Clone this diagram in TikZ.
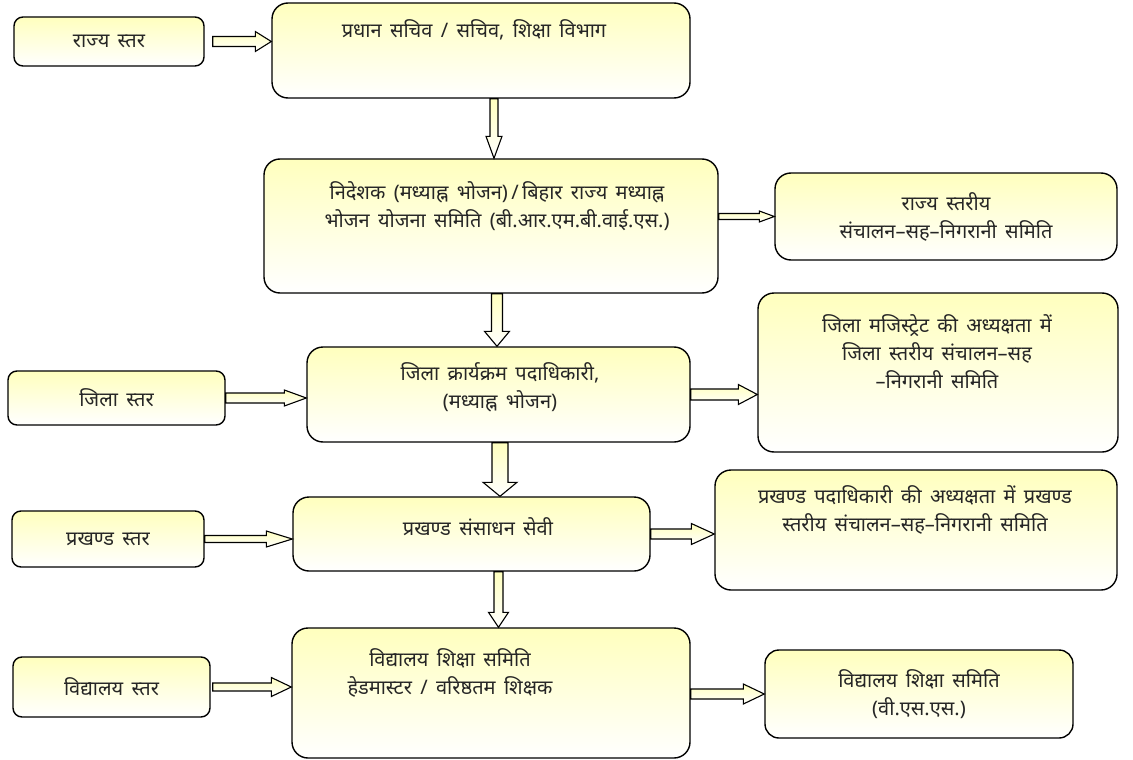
\documentclass[tikz,border=0pt]{standalone}
\usepackage{fontspec}
\newfontfamily\hindi[Script=Devanagari, WordSpace=1.6]{Noto Sans}
\usetikzlibrary{calc,positioning}
\definecolor{boxtop}{RGB}{255,255,190}
\tikzset{
    lvlbox/.style={draw, line width=1.4pt, rounded corners=9pt,
        top color=boxtop, bottom color=white, inner sep=0pt,
        font=\hindi\fontsize{20}{28}\selectfont, align=center, text=black!85},
    bigbox/.style={lvlbox, rounded corners=16pt},
    boxtext/.style={font=\hindi\fontsize{20}{28}\selectfont, align=center, text=black!85, inner sep=0pt},
    blkarrow/.style={draw, line width=1.1pt, line join=miter, top color=boxtop, bottom color=white}
}
% block arrow: from, to, shaft half width, head half width, head length
\newcommand{\blockarrow}[5]{%
    \coordinate (ba-a) at #1;
    \coordinate (ba-b) at #2;
    \coordinate (ba-h) at ($(ba-b)!#5!(ba-a)$);
    \draw[blkarrow] ($(ba-a)!#3!90:(ba-b)$) -- ($(ba-h)!#3!90:(ba-b)$)
        -- ($(ba-h)!#4!90:(ba-b)$) -- (ba-b) -- ($(ba-h)!#4!-90:(ba-b)$)
        -- ($(ba-h)!#3!-90:(ba-b)$) -- ($(ba-a)!#3!-90:(ba-b)$) -- cycle;
}

\begin{document}
\begin{tikzpicture}[x=1pt, y=-1pt]
\useasboundingbox (0,0) rectangle (1133,760);
% levels
\node[lvlbox, minimum width=190pt, minimum height=49pt] (rajya) at (109,41.5) {राज्य स्तर};
\node[lvlbox, minimum width=217pt, minimum height=54pt] (jila) at (116.5,398) {जिला स्तर};
\node[lvlbox, minimum width=192pt, minimum height=56pt] (prakhand) at (108,539) {प्रखण्ड स्तर};
\node[lvlbox, minimum width=197pt, minimum height=60pt] (vidyalay) at (111.5,687) {विद्यालय स्तर};
% main chain
\node[bigbox, minimum width=418pt, minimum height=95pt] (pradhan) at (481,50.5) {};
\node[boxtext] (pradhan-t) at (474,30) {प्रधान सचिव / सचिव, शिक्षा विभाग};
\node[bigbox, minimum width=454pt, minimum height=134pt] (nidesh) at (491,226) {};
\node[boxtext] (nidesh-t) at (497,206) {निदेशक (मध्याह्न भोजन)\,/\,बिहार राज्य मध्याह्न\\भोजन योजना समिति (बी.आर.एम.बी.वाई.एस.)};
\node[bigbox, minimum width=383pt, minimum height=95pt] (jilaprog) at (498.5,394.5) {};
\node[boxtext] (jilaprog-t) at (500,387) {जिला क्रार्यक्रम पदाधिकारी,\\(मध्याह्न भोजन)};
\node[bigbox, minimum width=357pt, minimum height=74pt] (prakhandres) at (471.5,534) {};
\node[boxtext] (prakhandres-t) at (478,527) {प्रखण्ड संसाधन सेवी};
\node[bigbox, minimum width=398pt, minimum height=130pt] (vidyamid) at (491,693) {};
\node[boxtext] (vidyamid-t) at (450,673) {विद्यालय शिक्षा समिति\\हेडमास्टर / वरिष्ठतम शिक्षक};
% committees
\node[bigbox, minimum width=342pt, minimum height=87pt] (rajyastar) at (946,216.5) {राज्य स्तरीय\\संचालन–सह–निगरानी समिति};
\node[bigbox, minimum width=360pt, minimum height=159pt] (jilamag) at (938,372.5) {};
\node[boxtext] (jilamag-t) at (937,352) {जिला मजिस्ट्रेट की अध्यक्षता में\\जिला स्तरीय संचालन–सह\\–निगरानी समिति};
\node[bigbox, minimum width=402pt, minimum height=120pt] (prakhandpad) at (916,530) {};
\node[boxtext] (prakhandpad-t) at (915,510) {प्रखण्ड पदाधिकारी की अध्यक्षता में प्रखण्ड\\स्तरीय संचालन–सह–निगरानी समिति};
\node[lvlbox, rounded corners=14pt, minimum width=308pt, minimum height=88pt] (vss) at (919,694) {विद्यालय शिक्षा समिति\\(वी.एस.एस.)};
% arrows
\blockarrow{([xshift=8pt]rajya.east)}{(pradhan.west |- rajya.east)}{5pt}{10pt}{16pt}
\blockarrow{([xshift=13pt]pradhan.south)}{([xshift=3pt]nidesh.north)}{4pt}{8pt}{22pt}
\blockarrow{(nidesh.east |- rajyastar.west)}{(rajyastar.west)}{3pt}{5.5pt}{15pt}
\blockarrow{([xshift=6pt]nidesh.south)}{([xshift=-1.5pt]jilaprog.north)}{5.5pt}{12.5pt}{15pt}
\blockarrow{(jila.east)}{(jilaprog.west |- jila.east)}{5pt}{8pt}{22pt}
\blockarrow{(jilaprog.east)}{(jilamag.west |- jilaprog.east)}{5.5pt}{10pt}{19pt}
\blockarrow{([xshift=1.5pt]jilaprog.south)}{([xshift=28.5pt]prakhandres.north)}{8pt}{17pt}{14pt}
\blockarrow{(prakhand.east)}{(prakhandres.west |- prakhand.east)}{3.5pt}{8pt}{26pt}
\blockarrow{(prakhandres.east)}{(prakhandpad.west |- prakhandres.east)}{5pt}{10.5pt}{23pt}
\blockarrow{([xshift=27pt]prakhandres.south)}{([xshift=7.5pt]vidyamid.north)}{4.5pt}{10pt}{15pt}
\blockarrow{([xshift=2pt]vidyalay.east)}{(vidyamid.west |- vidyalay.east)}{4pt}{9.5pt}{20pt}
\blockarrow{(vidyamid.east |- vss.west)}{(vss.west)}{5pt}{10pt}{21pt}
\end{tikzpicture}
\end{document}
